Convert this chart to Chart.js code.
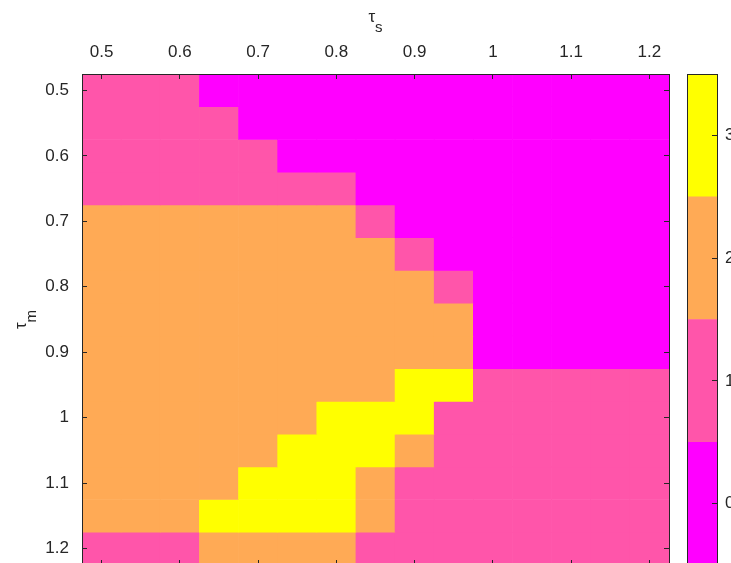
<!DOCTYPE html>
<html>
<head>
<meta charset="utf-8">
<script src="https://cdn.jsdelivr.net/npm/chart.js@4.4.0/dist/chart.umd.min.js"></script>
<style>
    html, body { margin: 0; padding: 0; background: #fff; overflow: hidden; }
    #wrap { position: relative; width: 731px; height: 563px; overflow: hidden; }
    #heat { position: absolute; left: 0; top: 0; }
    #bar { position: absolute; left: 640px; top: 0; }
</style>
</head>
<body>
<div id="wrap">
    <canvas id="heat" width="731" height="600"></canvas>
    <canvas id="bar" width="120" height="600"></canvas>
</div>
<script>
// Grid coordinates
const tauS = [0.5, 0.55, 0.6, 0.65, 0.7, 0.75, 0.8, 0.85, 0.9, 0.95, 1, 1.05, 1.1, 1.15, 1.2];
const tauM = [0.5, 0.55, 0.6, 0.65, 0.7, 0.75, 0.8, 0.85, 0.9, 0.95, 1, 1.05, 1.1, 1.15, 1.2];

// One row per tau_m, one column per tau_s
const cellValues = [
    [1, 1, 1, 0, 0, 0, 0, 0, 0, 0, 0, 0, 0, 0, 0],
    [1, 1, 1, 1, 0, 0, 0, 0, 0, 0, 0, 0, 0, 0, 0],
    [1, 1, 1, 1, 1, 0, 0, 0, 0, 0, 0, 0, 0, 0, 0],
    [1, 1, 1, 1, 1, 1, 1, 0, 0, 0, 0, 0, 0, 0, 0],
    [2, 2, 2, 2, 2, 2, 2, 1, 0, 0, 0, 0, 0, 0, 0],
    [2, 2, 2, 2, 2, 2, 2, 2, 1, 0, 0, 0, 0, 0, 0],
    [2, 2, 2, 2, 2, 2, 2, 2, 2, 1, 0, 0, 0, 0, 0],
    [2, 2, 2, 2, 2, 2, 2, 2, 2, 2, 0, 0, 0, 0, 0],
    [2, 2, 2, 2, 2, 2, 2, 2, 2, 2, 0, 0, 0, 0, 0],
    [2, 2, 2, 2, 2, 2, 2, 2, 3, 3, 1, 1, 1, 1, 1],
    [2, 2, 2, 2, 2, 2, 3, 3, 3, 1, 1, 1, 1, 1, 1],
    [2, 2, 2, 2, 2, 3, 3, 3, 2, 1, 1, 1, 1, 1, 1],
    [2, 2, 2, 2, 3, 3, 3, 2, 1, 1, 1, 1, 1, 1, 1],
    [2, 2, 2, 3, 3, 3, 3, 2, 1, 1, 1, 1, 1, 1, 1],
    [1, 1, 1, 2, 2, 2, 2, 1, 1, 1, 1, 1, 1, 1, 1]
];

const xTicks = [0.5, 0.6, 0.7, 0.8, 0.9, 1, 1.1, 1.2];
const xTickLabels = ['0.5', '0.6', '0.7', '0.8', '0.9', '1', '1.1', '1.2'];
const yTicks = [0.5, 0.6, 0.7, 0.8, 0.9, 1, 1.1, 1.2];
const yTickLabels = ['0.5', '0.6', '0.7', '0.8', '0.9', '1', '1.1', '1.2'];

// Colorbar levels
const levels = [0, 1, 2, 3];
const levelLabels = ['0', '1', '2', '3'];
const levelColors = ['#ff00ff', '#ff55aa', '#ffaa55', '#ffff00'];

const axisColor = '#262626';
const fontFamily = '"Liberation Sans", Arial, Helvetica, sans-serif';
const tickFont = { family: fontFamily, size: 17 };

const halfCol = (tauS[1] - tauS[0]) / 2;
const halfRow = (tauM[1] - tauM[0]) / 2;
const xMin = tauS[0] - halfCol, xMax = tauS[tauS.length - 1] + halfCol;
const yMin = tauM[0] - halfRow, yMax = tauM[tauM.length - 1] + halfRow;

function fixedTicks(values) {
    return scale => { scale.ticks = values.map(v => ({ value: v })); };
}

// MATLAB-style box edge: border plus inward tick marks, drawn above the cells
function edge(extra) {
    return Object.assign({
        type: 'linear',
        offset: false,
        grid: { z: 1, drawOnChartArea: false, drawTicks: true, tickLength: -5, color: axisColor, lineWidth: 1, offset: false },
        border: { z: 1, display: true, color: axisColor, width: 1 }
    }, extra);
}

const plainBorder = { z: 1, display: true, color: axisColor, width: 1 };

function drawSubscript(ctx, base, sub, cx, baseY) {
    ctx.font = '17px ' + fontFamily;
    const w1 = ctx.measureText(base).width;
    ctx.font = '15px ' + fontFamily;
    const w2 = ctx.measureText(sub).width;
    const x = cx - (w1 + w2) / 2;
    ctx.textAlign = 'left';
    ctx.textBaseline = 'alphabetic';
    ctx.font = '17px ' + fontFamily;
    ctx.fillText(base, x, baseY);
    ctx.font = '15px ' + fontFamily;
    ctx.fillText(sub, x + w1, baseY + 10);
}

const axisTitles = {
    id: 'axisTitles',
    afterDraw(chart) {
        const { ctx, chartArea } = chart;
        ctx.save();
        ctx.fillStyle = axisColor;
        drawSubscript(ctx, 'τ', 's', (chartArea.left + chartArea.right) / 2, 22);
        ctx.translate(26, (chartArea.top + chartArea.bottom) / 2);
        ctx.rotate(-Math.PI / 2);
        drawSubscript(ctx, 'τ', 'm', 0, 0);
        ctx.restore();
    }
};

// Heatmap: one floating-bar dataset per tau_m row
const heatDatasets = tauM.map((m, i) => ({
    data: tauS.map(s => ({ x: s, y: [m - halfRow, m + halfRow] })),
    backgroundColor: cellValues[i].map(v => levelColors[v]),
    borderWidth: 0,
    grouped: false,
    barPercentage: 1,
    categoryPercentage: 1,
    xAxisID: 'x',
    yAxisID: 'y'
}));

new Chart(document.getElementById('heat'), {
    type: 'bar',
    data: { datasets: heatDatasets },
    options: {
        responsive: false,
        animation: false,
        events: [],
        layout: { padding: { left: 0, right: 62, top: 0, bottom: 35 } },
        plugins: { legend: { display: false }, tooltip: { enabled: false } },
        scales: {
            x: edge({
                position: 'top', min: xMin, max: xMax,
                afterBuildTicks: fixedTicks(xTicks),
                afterFit: s => { s.height = 74; },
                ticks: { font: tickFont, color: axisColor, padding: 16, maxRotation: 0, autoSkip: false,
                         callback: (v, i) => xTickLabels[i] }
            }),
            x2: edge({
                position: 'bottom', min: xMin, max: xMax,
                afterBuildTicks: fixedTicks(xTicks),
                afterFit: s => { s.height = 0; },
                ticks: { display: false }
            }),
            y: edge({
                position: 'left', reverse: true, min: yMin, max: yMax,
                afterBuildTicks: fixedTicks(yTicks),
                afterFit: s => { s.width = 82; },
                ticks: { font: tickFont, color: axisColor, padding: 18, autoSkip: false,
                         callback: (v, i) => yTickLabels[i] }
            }),
            y2: edge({
                position: 'right', reverse: true, min: yMin, max: yMax,
                afterBuildTicks: fixedTicks(yTicks),
                afterFit: s => { s.width = 0; },
                ticks: { display: false }
            })
        }
    },
    plugins: [axisTitles]
});

// Colorbar
new Chart(document.getElementById('bar'), {
    type: 'bar',
    data: {
        labels: [''],
        datasets: levels.map(v => ({
            data: [[v - 0.5, v + 0.5]],
            backgroundColor: levelColors[v],
            borderWidth: 0,
            grouped: false,
            barPercentage: 1,
            categoryPercentage: 1,
            xAxisID: 'x',
            yAxisID: 'y'
        }))
    },
    options: {
        responsive: false,
        animation: false,
        events: [],
        layout: { padding: { left: 0, right: 0, top: 0, bottom: 35 } },
        plugins: { legend: { display: false }, tooltip: { enabled: false } },
        scales: {
            x: {
                type: 'category', position: 'bottom', offset: true,
                grid: { display: false },
                border: plainBorder,
                ticks: { display: false },
                afterFit: s => { s.height = 0; }
            },
            xt: {
                type: 'category', position: 'top', offset: true,
                grid: { display: false },
                border: plainBorder,
                ticks: { display: false },
                afterFit: s => { s.height = 74; }
            },
            y: {
                type: 'linear', position: 'left', min: -0.5, max: 3.5,
                grid: { display: false },
                border: plainBorder,
                ticks: { display: false },
                afterFit: s => { s.width = 47; }
            },
            yr: edge({
                position: 'right', min: -0.5, max: 3.5,
                afterBuildTicks: fixedTicks(levels),
                afterFit: s => { s.width = 43; },
                ticks: { font: tickFont, color: axisColor, padding: 13, autoSkip: false,
                         callback: (v, i) => levelLabels[i] }
            })
        }
    }
});
</script>
</body>
</html>
